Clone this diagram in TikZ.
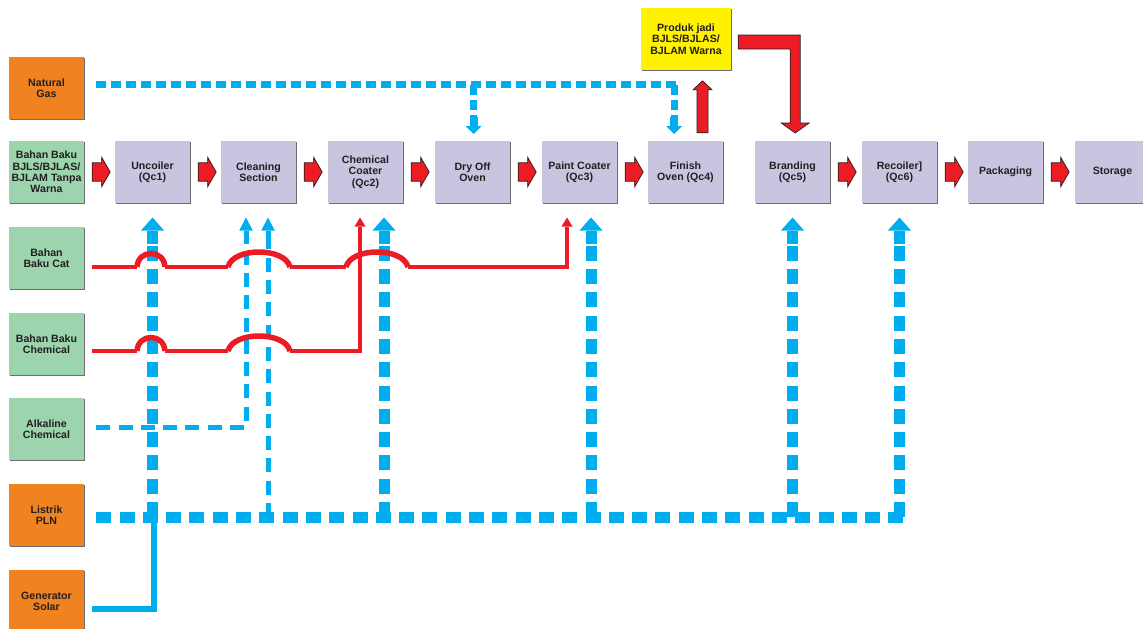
\documentclass[tikz,border=0pt]{standalone}
\usepackage{fontspec}
\setmainfont{Liberation Sans}
\usetikzlibrary{arrows.meta,calc,shadows}

\definecolor{gasorange}{HTML}{F0831F}
\definecolor{rawgreen}{HTML}{9CD4AD}
\definecolor{steplav}{HTML}{C8C5E1}
\definecolor{prodyellow}{HTML}{FFF200}
\definecolor{flowred}{HTML}{ED1C24}
\definecolor{feedblue}{HTML}{00AEEF}
\definecolor{inktext}{HTML}{231F20}
\definecolor{shade}{HTML}{6D6E71}

\tikzset{
  box/.style={rectangle, minimum width=75pt, minimum height=62pt, inner sep=0.5pt,
    align=center, font=\fontsize{10.6}{11.3}\selectfont\bfseries, text=inktext,
    general shadow={fill=shade, shadow xshift=1.4pt, shadow yshift=-1.4pt}},
  source/.style={box, fill=gasorange},
  rawmat/.style={box, fill=rawgreen},
  stepbox/.style={box, fill=steplav},
  prodbox/.style={box, fill=prodyellow, minimum width=90pt},
  blockarrow/.style={fill=flowred, draw=inktext, line width=0.7pt, line join=miter},
  feedthick/.style={draw=feedblue, line width=11pt, dash pattern=on 15pt off 8.3pt},
  feedthin/.style={draw=feedblue, line width=5pt, dash pattern=on 14pt off 8.3pt},
  gasline/.style={draw=feedblue, line width=7pt, dash pattern=on 10pt off 5pt},
  headthick/.style={draw=feedblue, line width=11pt, -{Triangle[width=23pt,length=13pt,line width=0pt]}},
  headthin/.style={draw=feedblue, line width=5pt, -{Triangle[width=13.5pt,length=13pt,line width=0pt]}},
  headgas/.style={draw=feedblue, line width=8pt, -{Triangle[width=16pt,length=8pt,line width=0pt]}},
  solarline/.style={draw=feedblue, line width=6pt, line join=miter},
  feedred/.style={draw=flowred, line width=4.5pt, line join=miter},
  hopred/.style={draw=flowred, line width=5.5pt},
  redhead/.style={-{Triangle[width=11pt,length=9pt,line width=0pt]}},
  flowarrow/.pic={\draw[blockarrow] (8,-9.2) -- (17.5,-9.2) -- (17.5,-14.7) -- (26,0)
      -- (17.5,14.7) -- (17.5,9.2) -- (8,9.2) -- cycle;}
}

\begin{document}
\begin{tikzpicture}[x=1pt, y=-1pt]
\useasboundingbox (0,0) rectangle (1143,629);

% inputs and utilities
\node[source] (ng)   at (46.5,88)  {Natural\\Gas};
\node[rawmat] (bjls) at (46.5,172) {Bahan Baku\\BJLS/BJLAS/\\BJLAM Tanpa\\Warna};
\node[rawmat] (cat)  at (46.5,258) {Bahan\\Baku Cat};
\node[rawmat] (chem) at (46.5,344) {Bahan Baku\\Chemical};
\node[rawmat] (alk)  at (46.5,429) {Alkaline\\Chemical};
\node[source] (pln)  at (46.5,515) {Listrik\\PLN};
\node[source] (gen)  at (46.5,601) {Generator\\Solar};

% process line
\node[stepbox] (unc)   at (152.5,172)  {Uncoiler\\(Qc1)};
\node[stepbox] (cln)   at (258.5,172)  {Cleaning\\Section};
\node[stepbox] (coat)  at (365.5,172)  {Chemical\\Coater\\(Qc2)};
\node[stepbox] (dry)   at (472.5,172)  {Dry Off\\Oven};
\node[stepbox] (paint) at (579.5,172)  {Paint Coater\\(Qc3)};
\node[stepbox] (fin)   at (685.5,172)  {Finish\\Oven (Qc4)};
\node[stepbox] (brand) at (792.5,172)  {Branding\\(Qc5)};
\node[stepbox] (rec)   at (899.5,172)  {Recoiler]\\(Qc6)};
\node[stepbox] (pack)  at (1005.5,172) {Packaging};
\node[stepbox] (stor)  at (1112.5,172) {Storage};
\node[prodbox] (prod)  at (686,39)     {Produk jadi\\BJLS/BJLAS/\\BJLAM Warna};

% main flow arrows
\pic at (bjls.east)  {flowarrow};
\pic at (unc.east)   {flowarrow};
\pic at (cln.east)   {flowarrow};
\pic at (coat.east)  {flowarrow};
\pic at (dry.east)   {flowarrow};
\pic at (paint.east) {flowarrow};
\pic at (brand.east) {flowarrow};
\pic at (rec.east)   {flowarrow};
\pic at (pack.east)  {flowarrow};

% finish oven up to the finished product, then back down to branding
\draw[blockarrow] ($(fin.north)+(11.5,-8)$) -- ++(0,-43) -- ++(-4,0) -- ++(9.5,-9)
  -- ++(9.5,9) -- ++(-4,0) -- ++(0,43) -- cycle;
\draw[blockarrow] ($(prod.east)+(7,-4)$) -- ++(62,0) -- ++(0,88) -- ++(9,0) -- ++(-14,10)
  -- ++(-14,-10) -- ++(9,0) -- ++(0,-74) -- ++(-52,0) -- cycle;

% rows used by the feed lines
\coordinate (busrow)  at (0,517);
\coordinate (stubrow) at (0,244);
\coordinate (tiprow)  at (0,217.5);
\coordinate (gasrow)  at (0,84.5);
\coordinate (gasstub) at (0,117);
\coordinate (gastip)  at (0,134);
\coordinate (alkrow)  at (0,427);

% feed points under and over the process boxes
\coordinate (coatfeed)  at ([xshift=18.5pt]coat.south);
\coordinate (coatred)   at ([xshift=-5.5pt]coat.south);
\coordinate (paintfeed) at ([xshift=11.5pt]paint.south);
\coordinate (paintred)  at ([xshift=-12.5pt]paint.south);
\coordinate (clnA)      at ([xshift=-12.5pt]cln.south);
\coordinate (clnB)      at ([xshift=9.5pt]cln.south);
\coordinate (dryfeed)   at ([xshift=1pt]dry.north);
\coordinate (finfeed)   at ([xshift=-11.5pt]fin.north);
\coordinate (solarup)   at ([xshift=1pt]unc.south);

% natural gas supply to the ovens
\draw[gasline] ($(ng.east)+(12,-3.5)$) -- ([xshift=4pt]finfeed |- gasrow);
\draw[gasline] (dryfeed |- gasrow) -- (dryfeed |- gasstub);
\draw[headgas] (dryfeed |- gasstub) -- (dryfeed |- gastip);
\draw[gasline] (finfeed |- gasrow) -- (finfeed |- gasstub);
\draw[headgas] (finfeed |- gasstub) -- (finfeed |- gastip);

% electricity bus and feeds
\draw[feedthick] ($(pln.east)+(12,2)$) -- ([xshift=5.5pt]rec.south |- busrow);
\foreach \p in {unc.south, coatfeed, paintfeed, brand.south, rec.south}{
  \draw[feedthick] (\p |- busrow) -- (\p |- stubrow);
  \draw[headthick] (\p |- stubrow) -- (\p |- tiprow);
}
\draw[feedthin] (clnB |- busrow) -- (clnB |- stubrow);
\draw[headthin] (clnB |- stubrow) -- (clnB |- tiprow);

% alkaline chemical to cleaning
\draw[feedthin, line join=miter] ($(alk.east)+(12,-2)$) -- (clnA |- alkrow) -- (clnA |- stubrow);
\draw[headthin] (clnA |- stubrow) -- (clnA |- tiprow);

% solar generator tie-in
\draw[solarline] ($(gen.east)+(8,8)$) -| (solarup |- busrow);

% paint raw material line with crossings
\draw[feedred] ($(cat.east)+(8,9)$) -- (137,267);
\draw[hopred] (137,267) .. controls (138,249) and (164,249) .. (165,267);
\draw[feedred] (165,267) -- (228,267);
\draw[hopred] (228,267) .. controls (233,247) and (285,247) .. (290,267);
\draw[feedred] (290,267) -- (346,267);
\draw[hopred] (346,267) .. controls (351,247) and (403,247) .. (408,267);
\draw[feedred] (408,267) -- (paintred |- 0,267) -- (paintred |- 0,228);
\draw[feedred, line width=4pt, redhead] (paintred |- 0,229) -- (paintred |- tiprow);

% chemical raw material line with crossings
\draw[feedred] ($(chem.east)+(8,7)$) -- (137,351);
\draw[hopred] (137,351) .. controls (138,333) and (164,333) .. (165,351);
\draw[feedred] (165,351) -- (228,351);
\draw[hopred] (228,351) .. controls (233,331) and (285,331) .. (290,351);
\draw[feedred] (290,351) -- (coatred |- 0,351) -- (coatred |- 0,228);
\draw[feedred, line width=4pt, redhead] (coatred |- 0,229) -- (coatred |- tiprow);
\end{tikzpicture}
\end{document}
